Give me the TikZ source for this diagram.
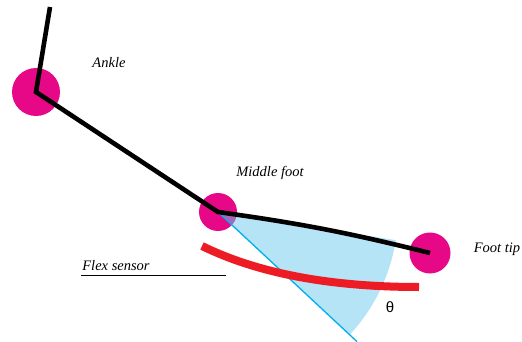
\documentclass[tikz,border=0pt]{standalone}
\usepackage{fontspec}
\setmainfont{Liberation Serif}
\newfontfamily\thetafont{Liberation Sans}
\usetikzlibrary{positioning, calc}

\definecolor{jointpink}{RGB}{230,8,135}
\definecolor{sensorred}{RGB}{237,28,36}
\definecolor{anglecyan}{RGB}{0,174,239}
\definecolor{anglefill}{RGB}{105,201,235}

\tikzset{
  joint/.style={circle, fill=jointpink, inner sep=0pt},
  bone/.style={line width=4.6pt, black},
  lbl/.style={font=\fontsize{14.5}{17}\selectfont\itshape}
}

\begin{document}
\begin{tikzpicture}[x=1pt, y=1pt]

\useasboundingbox (0,0) rectangle (522,-342);

% joints
\node[joint, minimum size=48] (ankle) at (36,-92) {};
\node[joint, minimum size=38] (mid) at (218,-212) {};
\node[joint, minimum size=41] (tip) at (430,-253) {};
\coordinate (legtop) at (50,-7);

% angle between foot and sole
\fill[anglefill, fill opacity=0.5] (mid.center) -- ++(-9:180)
  arc[start angle=-9, end angle=-43, radius=180] -- cycle;
\coordinate (rayend) at ($(mid.center)+(-43:190)$);
\draw[anglecyan, line width=1.3pt] (mid.center) -- (rayend);

% flex sensor
\coordinate (fsA) at (202,-246);
\coordinate (fsB) at (419,-287);
\draw[sensorred, line width=8pt] (fsA) .. controls (257,-273) and (329,-287) .. (fsB);

% skeleton
\draw[bone] (legtop) -- (ankle.center) -- (mid.center) to[bend left=3] (tip.center);

% labels
\node[lbl] (ankletxt) at (109,-63) {Ankle};
\node[lbl] (midtxt) at (270,-173) {Middle foot};
\node[lbl] (tiptxt) at (497,-249) {Foot tip};
\node[lbl] (flextxt) at (116,-266) {Flex sensor};
\coordinate (ulA) at (81,-275);
\coordinate (ulB) at (226,-275);
\draw[line width=1pt] (ulA) -- (ulB);
\node[font=\fontsize{15}{18}\selectfont\thetafont] (theta) at (390,-307) {θ};

\end{tikzpicture}
\end{document}
